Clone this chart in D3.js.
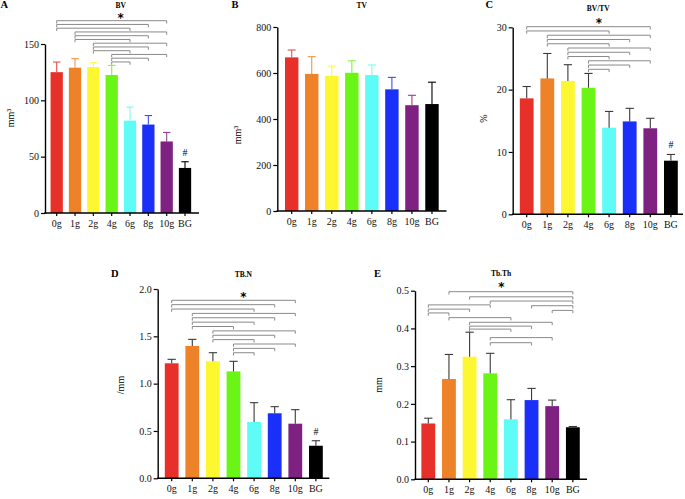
<!DOCTYPE html>
<html><head><meta charset="utf-8">
<script src="https://cdn.jsdelivr.net/npm/d3@7"></script>
<style>
body{margin:0;background:#fff;}
svg{display:block;font-family:"Liberation Serif","Times New Roman",serif;}
</style></head>
<body><svg id="c" width="685" height="499"></svg>
<script>
const categories = ["0g","1g","2g","4g","6g","8g","10g","BG"];
const barColors = ["#e8302a","#ee8229","#fdf731","#6af516","#5ffbf7","#1a2ff7","#7f2181","#000000"];

const bvMean = [125,129,129.5,122.5,82,78.5,63.5,40];
const bvErr  = [9,8,4,8.5,12,8,8,5.5];
const tvMean = [668,596,587,601,591,529,460,465];
const tvErr  = [32,75,43,52,44,52,43,95];
const bvtvMean = [18.6,21.8,21.4,20.3,13.9,14.9,13.8,8.6];
const bvtvErr  = [1.9,4.0,2.6,2.3,2.6,2.1,1.6,1.0];
const tbnMean = [1.215,1.398,1.236,1.13,0.595,0.687,0.577,0.344];
const tbnErr  = [0.042,0.07,0.091,0.106,0.204,0.07,0.148,0.053];
const tbthMean = [0.148,0.266,0.325,0.281,0.159,0.210,0.194,0.138];
const tbthErr  = [0.014,0.065,0.065,0.053,0.052,0.031,0.016,0.002];

const yTicksA = [0,50,100,150];
const yTicksB = [0,200,400,600,800];
const yTicksC = [0,10,20,30];
const yTicksD = [0,0.5,1.0,1.5,2.0];
const yTicksE = [0,0.1,0.2,0.3,0.4,0.5];

// significance brackets: [from index, to index, level]
const bracketsA = [[0,6,0],[0,5,1],[0,4,2],[1,6,3],[1,5,4],[1,4,5],[2,6,6],[2,5,7],[2,4,8],[3,6,9],[3,5,10],[3,4,11]];
const bracketsB = [];
const bracketsC = [[0,6,0],[0,4,1],[1,6,2],[1,5,3],[1,4,4],[2,6,5],[2,5,6],[2,4,7],[3,6,8],[3,5,9],[3,4,10]];
const bracketsD = [[0,6,0],[0,5,1],[0,4,2],[1,6,3],[1,5,4],[1,4,5],[1,3,6],[2,6,7],[2,5,8],[2,4,9],[3,6,10],[3,5,11],[3,4,12]];
const bracketsE = [[1,7,0],[2,7,1.2],[3,7,2.2],[0,3,3.1],[5,7,3.3],[0,2,4.1],[6,7,4.4],[0,1,5],[1,4,6.1],[2,6,7.2],[2,5,8.1],[2,4,8.8],[3,6,10.8],[3,5,12]];

const svg = d3.select("#c");

const panels = [
  {letter:"A", title:"BV", mean:bvMean, err:bvErr, ticks:yTicksA, fmt:d3.format("d"), ylab:"mm³",
   ax:45, xEnd:199, y0:213, yTop:44, c0:56.7, step:18.33, errColored:true,
   brackets:bracketsA, bBase:20.7, bStep:3.75, star:[120.7,15.5], titleXY:[120.7,7.5], letterXY:[0.5,7.8],
   ylabXY:[14,118], hash:true},
  {letter:"B", title:"TV", mean:tvMean, err:tvErr, ticks:yTicksB, fmt:d3.format("d"), ylab:"mm³",
   ax:277.3, xEnd:446.5, y0:211, yTop:27, c0:291.7, step:20.04, errColored:true,
   brackets:bracketsB, titleXY:[361.7,7.5], letterXY:[231.5,7.8], ylabXY:[241,135], hash:false},
  {letter:"C", title:"BV/TV", mean:bvtvMean, err:bvtvErr, ticks:yTicksC, fmt:d3.format("d"), ylab:"%",
   ax:512.7, xEnd:683, y0:214.3, yTop:27.3, c0:526.7, step:20.6, errColored:false,
   brackets:bracketsC, bBase:26.7, bStep:4.26, star:[599,20.5], titleXY:[598.3,10.7], letterXY:[485.5,7.8],
   ylabXY:[487,118.5], hash:true},
  {letter:"D", title:"TB.N", mean:tbnMean, err:tbnErr, ticks:yTicksD, fmt:d3.format(".1f"), ylab:"/mm",
   ax:157.7, xEnd:329.3, y0:478.3, yTop:289, c0:171.7, step:20.6, errColored:false,
   brackets:bracketsD, bBase:300.3, bStep:4.37, star:[243.5,294.7], titleXY:[243.3,276.5], letterXY:[111,276.5],
   ylabXY:[124,385], hash:true},
  {letter:"E", title:"Tb.Th", mean:tbthMean, err:tbthErr, ticks:yTicksE, fmt:d3.format(".1f"), ylab:"mm",
   ax:415, xEnd:587, y0:479.3, yTop:290.7, c0:428.3, step:20.65, errColored:false,
   brackets:bracketsE, bBase:291.7, bStep:4.25, star:[501.5,284.2], titleXY:[501,276.3], letterXY:[374,276.5],
   ylabXY:[382,385], hash:false}
];

panels.forEach(p => {
  const g = svg.append("g");
  const yMax = p.ticks[p.ticks.length-1];
  const y = d3.scaleLinear().domain([0,yMax]).range([p.y0,p.yTop]);
  const x = d3.scaleBand().domain(categories)
      .range([p.c0 - p.step/2, p.c0 + 7.5*p.step]).paddingInner(0.33).paddingOuter(0.165);
  const bw = x.bandwidth();
  const cx = i => x(categories[i]) + bw/2;

  // bars
  g.selectAll("rect.bar").data(categories).join("rect")
    .attr("x", d => x(d)).attr("width", bw)
    .attr("y", (d,i) => y(p.mean[i])).attr("height", (d,i) => p.y0 - y(p.mean[i]))
    .attr("fill", (d,i) => barColors[i]);

  // error bars (upper only)
  const ecol = i => p.errColored ? (i===7 ? "#000" : d3.interpolateRgb(barColors[i], "#ffffff")(0.15)) : "#3a3a3a";
  const eg = g.selectAll("g.err").data(categories).join("g");
  eg.append("line").attr("x1",(d,i)=>cx(i)).attr("x2",(d,i)=>cx(i))
    .attr("y1",(d,i)=>y(p.mean[i])).attr("y2",(d,i)=>y(p.mean[i]+p.err[i]))
    .attr("stroke",(d,i)=>ecol(i)).attr("stroke-width",1.1);
  eg.append("line").attr("x1",(d,i)=>cx(i)-bw*0.3).attr("x2",(d,i)=>cx(i)+bw*0.3)
    .attr("y1",(d,i)=>y(p.mean[i]+p.err[i])).attr("y2",(d,i)=>y(p.mean[i]+p.err[i]))
    .attr("stroke",(d,i)=>ecol(i)).attr("stroke-width",1.1);

  // y axis
  const ya = g.append("g").attr("transform",`translate(${p.ax},0)`)
    .call(d3.axisLeft(y).tickValues(p.ticks).tickFormat(p.fmt).tickSize(4).tickSizeOuter(0).tickPadding(2));
  ya.select(".domain").attr("stroke","#000").attr("stroke-width",1.4);
  ya.selectAll(".tick line").attr("stroke","#000").attr("stroke-width",1.2);
  ya.selectAll("text").attr("font-size",10).attr("font-family","Liberation Serif").attr("fill","#111");

  // x axis
  const xa = g.append("g").attr("transform",`translate(0,${p.y0})`)
    .call(d3.axisBottom(x).tickSize(3).tickSizeOuter(0).tickPadding(4));
  xa.select(".domain").remove();
  xa.selectAll(".tick line").attr("stroke","#000").attr("stroke-width",1.2);
  xa.selectAll("text").attr("font-size",10).attr("font-family","Liberation Serif").attr("fill","#111");
  g.append("line").attr("x1",p.ax-0.7).attr("x2",p.xEnd).attr("y1",p.y0).attr("y2",p.y0)
    .attr("stroke","#000").attr("stroke-width",1.4);

  // brackets
  g.selectAll("path.br").data(p.brackets).join("path")
    .attr("fill","none").attr("stroke","#8a8a8a").attr("stroke-width",1)
    .attr("d", b => {
      const yy = p.bBase + b[2]*p.bStep, x1 = cx(b[0]), x2 = cx(b[1]);
      return `M${x1},${yy+2.8}V${yy}H${x2}V${yy+2.8}`;
    });

  if (p.star) {
    g.append("text").attr("x",p.star[0]).attr("y",p.star[1]+6.3).attr("text-anchor","middle")
      .attr("font-size",12).attr("font-weight","bold").attr("font-family","DejaVu Sans").text("*");
  }
  // title
  g.append("text").attr("x",p.titleXY[0]).attr("y",p.titleXY[1]).attr("text-anchor","middle")
    .attr("font-size",7.5).attr("font-weight","bold").text(p.title);
  g.append("text").attr("x",p.letterXY[0]).attr("y",p.letterXY[1])
    .attr("font-size",10.5).attr("font-weight","bold").text(p.letter);
  // y label
  g.append("text").attr("transform",`translate(${p.ylabXY[0]},${p.ylabXY[1]}) rotate(-90)`)
    .attr("text-anchor","middle").attr("font-size",10).text(p.ylab);
  // hash
  if (p.hash) {
    g.append("text").attr("x",cx(7)).attr("y",y(p.mean[7]+p.err[7]) - 6).attr("text-anchor","middle")
      .attr("font-size",10).text("#");
  }
});
</script></body></html>
